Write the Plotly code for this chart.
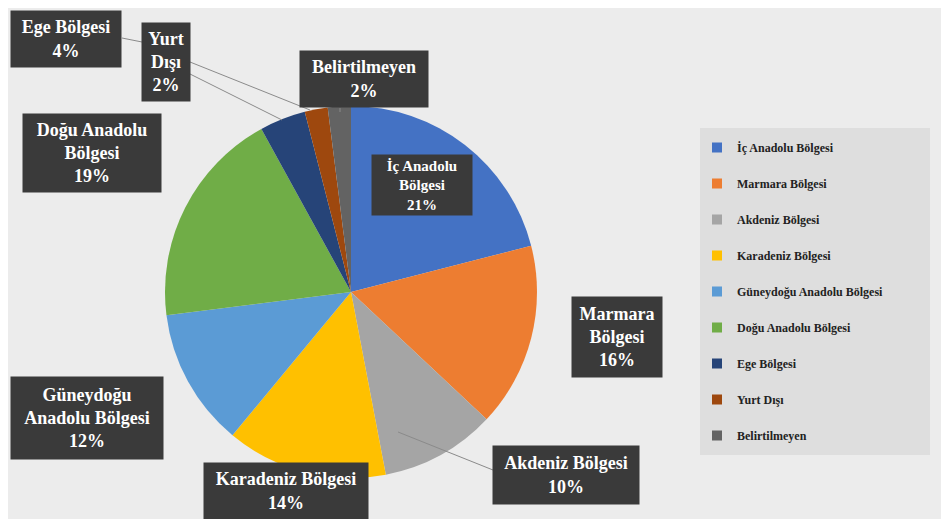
import plotly.graph_objects as go

W, H = 933, 511      # figure size (page adds an 8px body margin)
OFF = 8

regions = ["İç Anadolu Bölgesi", "Marmara Bölgesi", "Akdeniz Bölgesi", "Karadeniz Bölgesi",
           "Güneydoğu Anadolu Bölgesi", "Doğu Anadolu Bölgesi", "Ege Bölgesi", "Yurt Dışı",
           "Belirtilmeyen"]
shares = [21, 16, 10, 14, 12, 19, 4, 2, 2]
colors = ["#4472C4", "#ED7D31", "#A5A5A5", "#FFC000", "#5B9BD5", "#70AD47",
          "#264478", "#9E480E", "#636363"]
# label box texts (line-broken as in the reference)
box_texts = ["İç Anadolu<br>Bölgesi", "Marmara<br>Bölgesi", "Akdeniz Bölgesi", "Karadeniz Bölgesi",
             "Güneydoğu<br>Anadolu Bölgesi", "Doğu Anadolu<br>Bölgesi", "Ege Bölgesi",
             "Yurt<br>Dışı", "Belirtilmeyen"]

fig = go.Figure()

def px(x):
    return (x - OFF) / W

def py(y):
    return 1 - (y - OFF) / H

cx, cy, r = 351, 292, 186
fig.add_trace(go.Pie(
    labels=regions, values=shares, sort=False, direction="clockwise", rotation=0,
    marker=dict(colors=colors, line=dict(width=0)),
    textinfo="none", showlegend=False, hoverinfo="label+percent",
    domain=dict(x=[px(cx - r), px(cx + r)], y=[py(cy + r), py(cy - r)]),
))

# legend entries
for i, (name, col) in enumerate(zip(regions, colors)):
    fig.add_trace(go.Scatter(
        x=[None], y=[None], mode="markers", name=name, legendgroup=str(i),
        marker=dict(symbol="square", size=10, color=col),
    ))

# label boxes: (center x, center y, width, height, font size)
box_geom = [
    (422, 185, 102, 62, 15),
    (617, 337, 92, 82, 18),
    (566, 475, 148, 60, 18),
    (286, 491, 166, 58, 18),
    (87, 418, 154, 84, 18),
    (92, 153, 140, 80, 18),
    (66, 39, 112, 58, 18),
    (166, 62, 50, 80, 18),
    (364, 79, 130, 58, 18),
]
annos = []
for txt, s, (bx, by, bw, bh, fs) in zip(box_texts, shares, box_geom):
    annos.append(dict(
        x=px(bx), y=py(by), xref="paper", yref="paper", showarrow=False,
        xanchor="center", yanchor="middle",
        text=f"<b>{txt}<br>{s}%</b>", width=bw - 6, height=bh - 6,
        bgcolor="#3a3a3a", borderpad=2, align="center", valign="middle",
        font=dict(family="Liberation Serif", size=fs, color="white"),
    ))

lc = dict(color="#8a8a8a", width=1)
shapes = [
    # legend panel
    dict(type="rect", xref="paper", yref="paper", x0=px(700), x1=px(930), y0=py(455), y1=py(128),
         fillcolor="#dedede", line=dict(width=0), layer="below"),
    # leader lines
    dict(type="line", xref="paper", yref="paper", x0=px(122), y0=py(38), x1=px(142), y1=py(42), line=lc),
    dict(type="line", xref="paper", yref="paper", x0=px(190), y0=py(62), x1=px(310), y1=py(110), line=lc),
    dict(type="line", xref="paper", yref="paper", x0=px(190), y0=py(74), x1=px(282), y1=py(120), line=lc),
    dict(type="line", xref="paper", yref="paper", x0=px(340), y0=py(108), x1=px(340), y1=py(112), line=lc),
    dict(type="line", xref="paper", yref="paper", x0=px(398), y0=py(432), x1=px(493), y1=py(470), line=lc),
]

fig.update_layout(
    width=W, height=H, margin=dict(l=0, r=0, t=0, b=0),
    paper_bgcolor="#ececec", plot_bgcolor="rgba(0,0,0,0)",
    xaxis=dict(visible=False), yaxis=dict(visible=False),
    legend=dict(x=px(697), y=py(133), xanchor="left", yanchor="top",
                bgcolor="rgba(0,0,0,0)", tracegroupgap=17,
                font=dict(family="Liberation Serif", size=12, color="#222222", weight="bold")),
    annotations=annos, shapes=shapes,
)

fig.write_html("out.html")
